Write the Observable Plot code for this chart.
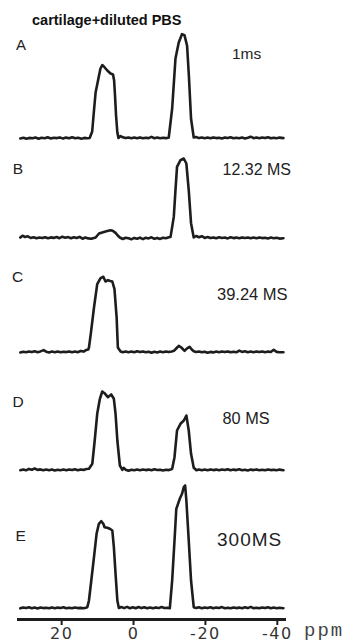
<!DOCTYPE html>
<html>
<head>
<meta charset="utf-8">
<script src="https://cdn.jsdelivr.net/npm/d3@7"></script>
<script src="https://cdn.jsdelivr.net/npm/@observablehq/plot@0.6"></script>
<style>
  html, body { margin: 0; padding: 0; background: #fff; }
  #wrap { position: relative; width: 356px; height: 643px; overflow: hidden; }
  #wrap svg { position: absolute; left: 0; }
  .lbl { position: absolute; white-space: nowrap; color: #222; font-family: "Liberation Sans", Arial, sans-serif; }
</style>
</head>
<body>
<div id="wrap"></div>
<script>
// ---------------- data ----------------
const title = "cartilage+diluted PBS";
const panelLetters = ["A", "B", "C", "D", "E"];
const delayLabels = ["1ms", "12.32 MS", "39.24 MS", "80 MS", "300MS"];
const xTicks = [20, 0, -20, -40];
const xUnit = "ppm";

// [chemical shift (ppm), intensity]
const spectrumA = [
  [31.5,0],[30.6,0.8],[29.8,-0.3],[29,0.6],[28.1,0.2],[27.3,1],[26.4,-0.2],[25.6,0.7],[24.7,0.3],[23.9,1.2],
  [23,0],[22.2,0.8],[21.3,0.4],[20.5,1.1],[19.6,-0.1],[18.8,0.9],[17.9,0.3],[17.1,1.3],[16.2,0.2],[15.4,0.8],
  [14.5,-0.2],[13.7,0.6],[12.8,0.3],[12.2,0.5],[11.5,7],[11.0,28],[10.55,46],[9.6,63],[9.2,70],[8.7,73.4],
  [8.25,72],[7.3,68],[6.4,65],[5.7,64],[5.4,58],[5.15,43],[4.86,23],[4.5,6],[4.2,0.5],[3.6,2.5],
  [3.0,1.2],[2.2,0.4],[1.4,1.0],[0.6,0.2],[-0.2,0.9],[-1.0,0.3],[-1.8,1.1],[-2.6,0.2],[-3.4,0.8],[-4.2,0.4],
  [-5.0,1.6],[-5.8,0.3],[-6.6,0.9],[-7.4,0.2],[-8.2,0.7],[-9.0,0.4],[-9.6,0.8],[-9.8,1],[-10.75,30],[-11.67,80],
  [-12.58,96],[-13.5,104.4],[-14.17,103.4],[-14.9,92.7],[-15.4,62.7],[-16.0,19.7],[-16.75,1],[-17.4,1.5],[-18.2,0.4],[-19.0,1.0],
  [-19.8,0.3],[-20.6,0.9],[-21.4,0.2],[-22.2,1.1],[-23.0,0.4],[-23.8,0.8],[-24.6,0.1],[-25.4,0.9],[-26.2,0.5],[-27.0,1.2],
  [-27.8,0.2],[-28.6,0.7],[-29.4,0.3],[-30.2,1.0],[-31.0,0.1],[-31.8,0.8],[-32.6,1.8],[-33.4,0.3],[-34.2,0.9],[-35.0,0.2],
  [-35.8,1.0],[-36.6,0.4],[-37.4,1.3],[-38.2,0.2],[-39.0,0.8],[-39.8,0.3],[-40.6,0.9],[-41.7,0.4]
];
const spectrumB = [
  [31.5,1],[30.9,2.8],[30.2,1.5],[29.4,2.2],[28.6,0.5],[27.8,1.2],[27.0,0.3],[26.2,1.0],[25.4,0.4],[24.6,1.3],
  [23.8,0.2],[23.0,1.1],[22.2,0.6],[21.4,1.5],[20.6,0.3],[19.8,1.8],[19.0,0.8],[18.2,1.4],[17.4,0.2],[16.6,1.3],
  [15.8,0.5],[15.0,1.6],[14.2,-0.2],[13.4,1.0],[12.6,0.1],[11.8,-0.3],[11.0,0.6],[10.55,1],[9.6,5],[8.25,6.6],
  [7.3,7.5],[6.4,8.3],[5.8,7.8],[5.0,5.6],[4.4,3],[3.8,1],[3.0,-0.5],[2.2,0.8],[1.4,0.2],[0.6,-0.8],
  [-0.2,0.6],[-1.0,-0.2],[-1.8,0.9],[-2.6,-0.6],[-3.4,0.7],[-4.2,0.1],[-5.0,1.2],[-5.8,-0.3],[-6.6,0.6],[-7.4,-0.4],
  [-8.2,0.8],[-9.0,0.3],[-9.8,1.2],[-10.3,1.6],[-11.2,21.6],[-11.67,48.3],[-12.1,71.6],[-13.06,78.3],[-13.97,80],[-14.7,75],
  [-15.36,48.3],[-16.0,15.3],[-16.75,1],[-17.4,2.5],[-18.2,1.2],[-19.0,2.3],[-19.8,0.6],[-20.6,1.4],[-21.4,0.4],[-22.2,1.1],
  [-23.0,0.2],[-23.8,1.3],[-24.6,0.5],[-25.4,1.0],[-26.2,0.1],[-27.0,1.2],[-27.8,0.4],[-28.6,0.9],[-29.4,0.2],[-30.2,1.1],
  [-31.0,0.5],[-31.8,1.0],[-32.6,0.2],[-33.4,0.9],[-34.2,0.3],[-35.0,1.1],[-35.8,0.4],[-36.6,0.8],[-37.4,0.1],[-38.2,0.9],
  [-39.0,0.3],[-39.8,0.7],[-40.6,-0.1],[-41.7,0.3]
];
const spectrumC = [
  [31.5,0],[30.7,0.8],[29.9,0.2],[29.1,1.0],[28.3,0.4],[27.5,1.2],[26.7,0.3],[25.9,1.1],[25.0,2.4],[24.3,0.8],
  [23.5,0.1],[22.7,0.9],[21.9,0.3],[21.1,1.0],[20.3,0.2],[19.5,0.8],[18.7,0.4],[17.9,1.1],[17.1,0.2],[16.3,0.9],
  [15.5,0.3],[14.7,1.6],[13.9,0.9],[13.1,2.6],[12.6,3.0],[12.4,5],[11.9,18.4],[11.0,45],[10.1,68.4],[9.17,74.4],
  [8.4,75.7],[7.8,71],[7.1,72.4],[6.5,71.5],[5.9,71],[5.3,63.4],[4.7,35],[4.36,5],[3.6,1],[3.0,0.2],
  [2.2,0.9],[1.4,0.3],[0.6,1.0],[-0.2,0.2],[-1.0,1.2],[-1.8,0.4],[-2.6,1.1],[-3.4,0.2],[-4.2,0.8],[-5.0,-0.3],
  [-5.8,0.7],[-6.6,0.1],[-7.4,0.9],[-8.2,0.3],[-9.0,1.0],[-9.8,0.4],[-10.6,1.1],[-11.3,1.8],[-12.0,4.5],[-12.6,6.7],
  [-13.3,5],[-14.2,1.7],[-14.9,4.2],[-15.6,5.7],[-16.2,3],[-16.75,1.2],[-17.4,0.5],[-18.2,1.0],[-19.0,0.2],[-19.8,0.8],
  [-20.6,-0.2],[-21.4,0.6],[-22.2,0.1],[-23.0,0.9],[-23.8,0.3],[-24.6,1.0],[-25.4,0.4],[-26.2,1.1],[-27.0,0.2],[-27.8,0.8],
  [-28.6,0.2],[-29.4,1.9],[-30.2,0.6],[-31.0,1.2],[-31.8,0.3],[-32.6,0.9],[-33.4,0.2],[-34.2,1.0],[-35.0,0.4],[-35.8,1.1],
  [-36.6,0.3],[-37.4,0.9],[-38.2,0.5],[-39.0,2.7],[-39.8,0.6],[-40.6,0.3],[-41.7,0.2]
];
const spectrumD = [
  [31.5,0.3],[30.7,1.0],[29.9,0.2],[29.1,1.6],[28.3,0.8],[27.5,2.0],[26.7,0.6],[25.9,1.1],[25.1,0.2],[24.3,0.9],
  [23.5,0.3],[22.7,1.0],[21.9,0.1],[21.1,0.7],[20.3,0.3],[19.5,0.9],[18.7,0.2],[17.9,1.0],[17.1,0.4],[16.3,1.2],
  [15.5,0.3],[14.7,1.0],[13.9,0.6],[13.1,1.5],[12.4,1.7],[11.47,6.7],[10.8,30],[10.1,56.7],[9.36,71.7],[8.7,79],
  [8.06,77.3],[7.14,73.3],[6.2,76],[5.47,71.7],[5.0,56.7],[4.5,30],[3.8,5],[3.1,0.7],[2.7,2.6],[2.2,0.8],
  [1.4,-0.2],[0.6,0.7],[-0.2,0.2],[-1.0,0.9],[-1.8,0.3],[-2.6,1.0],[-3.4,0.4],[-4.2,0.9],[-5.0,0.2],[-5.8,1.3],
  [-6.6,0.5],[-7.4,0.8],[-8.2,0.1],[-9.0,0.7],[-9.8,0.4],[-10.3,0.9],[-10.75,1.7],[-11.4,13.3],[-12.1,40],[-13.06,46.7],
  [-14.0,50],[-14.7,55],[-15.36,40],[-16.0,16.7],[-16.75,2.7],[-17.5,0.2],[-18.2,1.0],[-19.0,0.3],[-19.8,0.9],[-20.6,0.2],
  [-21.4,1.1],[-22.2,0.4],[-23.0,0.9],[-23.8,0.2],[-24.6,1.0],[-25.4,0.5],[-26.2,1.3],[-27.0,0.3],[-27.8,0.9],[-28.6,0.4],
  [-29.4,1.2],[-30.2,0.3],[-31.0,0.8],[-31.8,0.1],[-32.6,0.9],[-33.4,0.4],[-34.2,1.1],[-35.0,0.3],[-35.8,0.8],[-36.6,0.2],
  [-37.4,1.0],[-38.2,0.4],[-39.0,0.8],[-39.8,0.2],[-40.6,0.9],[-41.7,0.3]
];
const spectrumE = [
  [31.5,0.2],[30.7,1.0],[29.9,0.4],[29.1,1.2],[28.3,0.3],[27.5,0.9],[26.7,0.1],[25.9,1.0],[25.1,0.4],[24.3,0.8],
  [23.5,0.2],[22.7,1.1],[21.9,0.3],[21.1,0.9],[20.3,0.5],[19.5,1.3],[18.7,0.2],[17.9,0.8],[17.1,0.3],[16.3,1.0],
  [15.5,0.4],[14.7,0.6],[13.9,0.2],[13.3,0.8],[12.86,1.3],[12.4,8],[11.75,28],[11.0,51.3],[10.28,74.7],[9.64,84.7],
  [8.97,87.3],[8.4,84.7],[8.06,81.3],[7.3,80.7],[6.58,79.7],[5.9,78],[5.47,61.3],[5.0,34.7],[4.5,8],[4.08,0.5],
  [3.4,1.5],[2.6,0.4],[1.8,1.6],[1.0,0.3],[0.2,1.2],[-0.6,0.2],[-1.4,1.5],[-2.2,0.4],[-3.0,1.3],[-3.8,0.2],
  [-4.6,1.0],[-5.4,0.3],[-6.2,1.1],[-7.0,0.4],[-7.8,1.5],[-8.6,0.5],[-9.4,0.8],[-10.1,0.3],[-10.75,28],[-11.4,68],
  [-11.9,99.7],[-12.86,109.7],[-13.5,114.7],[-13.97,121.3],[-14.36,123],[-14.7,108],[-15.36,68],[-16.0,28],[-16.75,1.3],[-17.4,0.5],
  [-18.2,1.2],[-19.0,0.3],[-19.8,1.0],[-20.6,0.4],[-21.4,1.3],[-22.2,0.2],[-23.0,0.9],[-23.8,0.5],[-24.6,1.4],[-25.4,0.3],
  [-26.2,0.8],[-27.0,0.2],[-27.8,1.1],[-28.6,0.4],[-29.4,0.9],[-30.2,0.3],[-31.0,1.2],[-31.8,0.4],[-32.6,1.6],[-33.4,0.3],
  [-34.2,0.8],[-35.0,0.2],[-35.8,1.0],[-36.6,0.4],[-37.4,1.2],[-38.2,0.3],[-39.0,0.9],[-39.8,0.2],[-40.6,0.8],[-41.7,0.3]
];
const spectra = [spectrumA, spectrumB, spectrumC, spectrumD, spectrumE];

// ---------------- layout ----------------
const W = 356;
const xOpts = { domain: [32, -42], axis: null };
const mL = 18, mR = 72;
const panelH = 140;                          // px; intensity units map 1:1 to px
const baselines = [137.7, 238.3, 351.7, 470, 608];   // page y of each trace's zero line
const letterPos = [[16, 50, 15], [12.7, 174, 15.5], [12, 281.7, 15.5], [12.5, 406.7, 15.5], [15.5, 540.7, 15.5]];
const delayPos  = [[232, 59.3, 15.5, 0], [222.5, 176, 16, 0], [217, 300, 16.5, 0], [222.5, 424, 16.3, 0], [217, 546, 19, 1]];

const wrap = document.getElementById("wrap");

function addLabel(text, left, baseline, fs, opts = {}) {
  const d = document.createElement("div");
  d.className = "lbl";
  d.textContent = text;
  const asc = opts.asc ?? 0.8465;
  d.style.left = left + "px";
  d.style.top = (baseline - asc * fs) + "px";
  d.style.fontSize = fs + "px";
  d.style.lineHeight = fs + "px";
  if (opts.weight) d.style.fontWeight = opts.weight;
  if (opts.ls) d.style.letterSpacing = opts.ls + "px";
  if (opts.family) d.style.fontFamily = opts.family;
  if (opts.color) d.style.color = opts.color;
  wrap.appendChild(d);
}

spectra.forEach((data, i) => {
  const svg = Plot.plot({
    width: W,
    height: panelH,
    marginLeft: mL, marginRight: mR, marginTop: 0, marginBottom: 0,
    x: xOpts,
    y: { domain: [-10, 130], axis: null },
    style: { background: "transparent", overflow: "visible" },
    marks: [
      Plot.line(data, { x: d => d[0], y: d => d[1], stroke: "#1d1d1d", strokeWidth: 2.6, strokeLinejoin: "round", strokeLinecap: "round" })
    ]
  });
  svg.style.top = (baselines[i] - 130) + "px";
  wrap.appendChild(svg);
});

// bottom axis
const axis = Plot.plot({
  width: W,
  height: 33,
  marginLeft: mL, marginRight: mR, marginTop: 7, marginBottom: 26,
  x: xOpts,
  style: { background: "transparent", overflow: "visible", fontFamily: "'DejaVu Sans', sans-serif", fontSize: "16px", letterSpacing: "1.5px" },
  marks: [
    Plot.frame({ anchor: "bottom", stroke: "#1d1d1d", strokeWidth: 3 }),
    Plot.axisX(xTicks, { anchor: "bottom", tickSize: 6, tickPadding: 2, strokeWidth: 2, stroke: "#1d1d1d", fill: "#333", tickFormat: d => String(d) })
  ]
});
axis.style.top = "612px";
wrap.appendChild(axis);

// text
addLabel(title, 32, 25, 14.5, { weight: "bold", color: "#111" });
panelLetters.forEach((t, i) => addLabel(t, letterPos[i][0], letterPos[i][1], letterPos[i][2]));
delayLabels.forEach((t, i) => addLabel(t, delayPos[i][0], delayPos[i][1], delayPos[i][2], { ls: delayPos[i][3] }));
addLabel(xUnit, 304, 637, 19, { family: "'Liberation Mono', monospace", ls: 2, asc: 0.7665, color: "#444" });
</script>
</body>
</html>
